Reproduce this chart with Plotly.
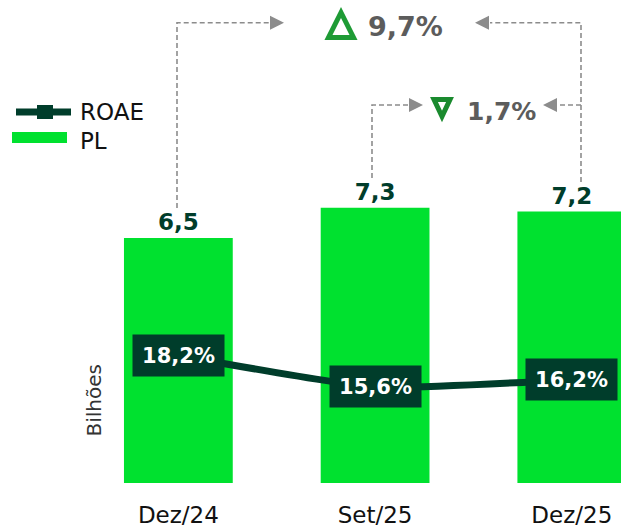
import plotly.graph_objects as go

# ---- data ----
categories = ["Dez/24", "Set/25", "Dez/25"]
pl_values = [6.5, 7.3, 7.2]          # PL (Bilhões)
roae_values = [18.2, 15.6, 16.2]     # ROAE (%)
variation_labels = ["9,7%", "1,7%"]  # Dez/25 vs Dez/24, Dez/25 vs Set/25
legend_names = ["ROAE", "PL"]
y_title = "Bilhões"

# ---- styles ----
GREEN = "#00E12F"
DARK = "#003D2B"
GRAY = "#8C8C8C"
FONT = "DejaVu Sans"

# pixel helpers (figure 621x529, plot area l=80, r=0, t=0, b=46)
L, W, H = 80, 541, 483
def px(x):
    return (x - L) / W
def py(y):
    return (H - y) / H

def fmt(v, suffix=""):
    return f"{v:.1f}".replace(".", ",") + suffix

fig = go.Figure()

fig.add_trace(go.Bar(
    x=categories, y=pl_values, name=legend_names[1],
    marker=dict(color=GREEN, line=dict(width=0)),
    width=0.553,
    text=[fmt(v) for v in pl_values], textposition="outside",
    textfont=dict(family=FONT, size=23, color=DARK, weight="bold"),
    cliponaxis=False, showlegend=False,
))

fig.add_trace(go.Scatter(
    x=categories, y=roae_values, name=legend_names[0], yaxis="y2",
    mode="lines", line=dict(color=DARK, width=7, shape="spline", smoothing=0.5),
    showlegend=False,
))

annotations = []
# ROAE boxed labels
for c, v in zip(categories, roae_values):
    annotations.append(dict(
        x=c, y=v, xref="x", yref="y2", text=fmt(v, "%"), showarrow=False,
        font=dict(family=FONT, size=21, color="white", weight="bold"),
        bgcolor=DARK, borderpad=7, width=77, height=27,
        xanchor="center", yanchor="middle",
    ))

# variation texts
annotations.append(dict(x=px(366), y=py(27), xref="paper", yref="paper",
                        text=variation_labels[0], showarrow=False, xanchor="left", yanchor="middle",
                        font=dict(family=FONT, size=27, color="#5C5C5C", weight="bold")))
annotations.append(dict(x=px(465), y=py(111), xref="paper", yref="paper",
                        text=variation_labels[1], showarrow=False, xanchor="left", yanchor="middle",
                        font=dict(family=FONT, size=25, color="#5C5C5C", weight="bold")))

# legend texts
annotations.append(dict(x=px(78), y=py(112), xref="paper", yref="paper", text=legend_names[0],
                        showarrow=False, xanchor="left", yanchor="middle",
                        font=dict(family=FONT, size=23, color="#111111")))
annotations.append(dict(x=px(78), y=py(141), xref="paper", yref="paper", text=legend_names[1],
                        showarrow=False, xanchor="left", yanchor="middle",
                        font=dict(family=FONT, size=23, color="#111111")))

# y title
annotations.append(dict(x=px(93.5), y=py(401), xref="paper", yref="paper", text=y_title,
                        showarrow=False, textangle=-90, xanchor="center", yanchor="middle",
                        font=dict(family=FONT, size=20, color="#333333")))

shapes = []
def path(points, closed=False):
    s = "M " + " L ".join(f"{px(x)},{py(y)}" for x, y in points)
    return s + (" Z" if closed else "")

# dashed connectors
for pts in [
    [(177, 208), (177, 22.7), (271, 22.7)],
    [(581, 182), (581, 22.7), (490, 22.7)],
    [(372, 178), (372, 105), (410, 105)],
    [(581, 105), (557, 105)],
]:
    shapes.append(dict(type="path", xref="paper", yref="paper", path=path(pts),
                       line=dict(color=GRAY, width=1.6, dash="5px,3px")))

# arrowheads
for tip, d in [((284, 22.7), 1), ((475, 22.7), -1), ((423, 105), 1), ((543, 105), -1)]:
    tx, ty = tip
    bx = tx - 14 * d
    shapes.append(dict(type="path", xref="paper", yref="paper",
                       path=path([(tx, ty), (bx, ty - 7), (bx, ty + 7)], closed=True),
                       fillcolor=GRAY, line=dict(width=0)))

# triangles
shapes.append(dict(type="path", xref="paper", yref="paper",
                   path=path([(341, 12.5), (328.5, 37.5), (353.5, 37.5)], closed=True),
                   fillcolor="white", line=dict(color="#1E9B35", width=5)))
shapes.append(dict(type="path", xref="paper", yref="paper",
                   path=path([(434, 99.5), (450, 99.5), (442, 116.5)], closed=True),
                   fillcolor="white", line=dict(color="#1A8A2E", width=5)))

# legend symbols
shapes.append(dict(type="line", xref="paper", yref="paper", x0=px(16), x1=px(71), y0=py(112), y1=py(112),
                   line=dict(color=DARK, width=7)))
shapes.append(dict(type="rect", xref="paper", yref="paper", x0=px(37), x1=px(53), y0=py(105), y1=py(119),
                   fillcolor=DARK, line=dict(width=0)))
shapes.append(dict(type="rect", xref="paper", yref="paper", x0=px(12), x1=px(67), y0=py(132), y1=py(143),
                   fillcolor=GREEN, line=dict(width=0)))

fig.update_layout(
    width=621, height=529,
    margin=dict(l=80, r=0, t=0, b=46),
    paper_bgcolor="white", plot_bgcolor="white",
    separators=",.",
    showlegend=False,
    bargap=0.45,
    xaxis=dict(range=[-0.5, 2.25], showgrid=False, zeroline=False, showline=False,
               ticks="", ticklabelstandoff=16,
               tickfont=dict(family=FONT, size=23, color="#111111")),
    yaxis=dict(range=[0, 12.81], visible=False),
    yaxis2=dict(range=[7.66, 47.58], overlaying="y", visible=False),
    annotations=annotations,
    shapes=shapes,
)

fig.write_html("out.html", config={"displayModeBar": False},
               post_script="document.body.style.margin='0px';")
